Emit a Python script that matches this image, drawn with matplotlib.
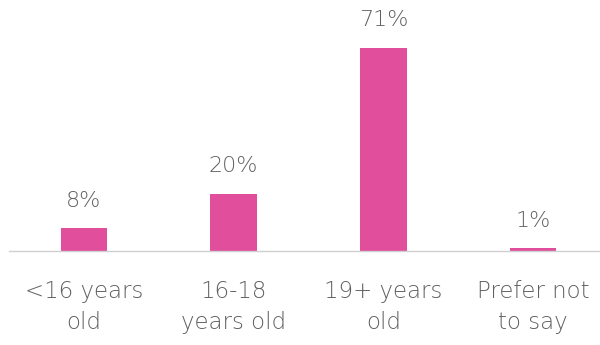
import matplotlib.pyplot as plt

categories = ['<16 years\nold', '16-18\nyears old', '19+ years\nold', 'Prefer not\nto say']
values = [8, 20, 71, 1]
labels = ['8%', '20%', '71%', '1%']

plt.rcParams['font.family'] = ['DejaVu Sans']

fig = plt.figure(figsize=(6, 3.45), dpi=100)
ax = fig.add_axes([9 / 600, 94 / 345, 599 / 600, 229 / 345])

x = range(len(values))
bars = ax.bar(x, values, width=0.31, color='#E04E9C')

for b, lab in zip(bars, labels):
    ax.annotate(lab, (b.get_x() + b.get_width() / 2, b.get_height()),
                xytext=(0, 12.5), textcoords='offset points',
                ha='center', va='bottom', fontsize=16, color='#606060',
                fontweight=200)

ax.set_xlim(-0.5, 3.5)
ax.set_ylim(0, 80)
ax.set_xticks(list(x))
ax.set_xticklabels(categories, fontsize=16.5, color='#606060', fontweight=200,
                   linespacing=1.45)
ax.tick_params(axis='x', length=0, pad=21)
ax.set_yticks([])
for s in ['top', 'right', 'left']:
    ax.spines[s].set_visible(False)
ax.spines['bottom'].set_color('#d0d0d0')
ax.spines['bottom'].set_linewidth(1)

fig.savefig('out.png', dpi=100)
